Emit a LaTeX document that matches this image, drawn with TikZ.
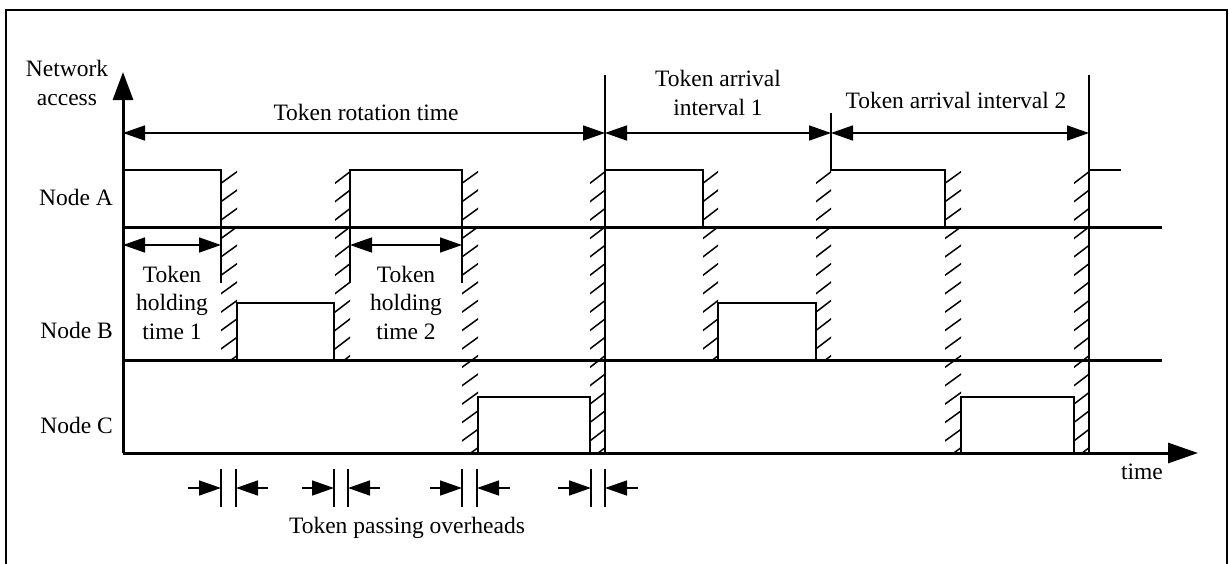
\documentclass[tikz,border=0pt]{standalone}
\usepackage{fontspec}
\setmainfont{Liberation Serif}
\usetikzlibrary{arrows.meta}

% hatched token-passing band: #1 left x, #2 right x, #3 top y, #4 bottom y
\newcommand\hatchband[4]{%
  \begin{scope}
    \clip (#1,#3) rectangle (#2,#4);
    \foreach \k in {0,...,16} {
      \draw[hatch] (#1-1,{#3+14+\k*18.4}) -- (#2+1,{#3+1+\k*18.4});
    }
  \end{scope}}

\begin{document}
\begin{tikzpicture}[x=1pt,y=-1pt,
  lbl/.style={inner sep=0pt, font=\fontsize{23.5}{28.5}\selectfont, align=center},
  frame/.style={line width=1.8pt},
  axis/.style={line width=3pt},
  rowline/.style={line width=3pt},
  pulse/.style={line width=1.8pt},
  tickline/.style={line width=1.8pt},
  hatch/.style={line width=1.5pt},
  tip/.tip={Triangle[length=22pt,width=15pt]},
  dimarrow/.style={line width=1.6pt, tip-tip},
  ovarrow/.style={line width=1.6pt, -tip}
]
\useasboundingbox (0,0) rectangle (1229,563);

% outer frame
\draw[frame] (6,565) -- (6,10) -- (1227,10) -- (1227,565);

% axes
\coordinate (orig) at (123,453);
\coordinate (ytop) at (123,72);
\coordinate (xend) at (1198,453);
\draw[axis, -{Triangle[length=28pt,width=20pt]}] (orig) -- (ytop);
\draw[axis, -{Triangle[length=30pt,width=20pt]}] (orig) -- (xend);

% row separators
\coordinate (rowA0) at (123,227); \coordinate (rowA1) at (1162,227);
\coordinate (rowB0) at (123,360); \coordinate (rowB1) at (1162,360);
\draw[rowline] (rowA0) -- (rowA1);
\draw[rowline] (rowB0) -- (rowB1);

% hatched token passing bands
\hatchband{221}{237}{170}{360}
\hatchband{335}{350}{170}{360}
\hatchband{462}{478}{170}{453}
\hatchband{590}{605}{170}{453}
\hatchband{703}{718}{170}{360}
\hatchband{816}{831}{170}{360}
\hatchband{945}{961}{170}{453}
\hatchband{1074}{1089}{170}{453}

% node A transmissions
\draw[pulse] (123,170) -- (221,170) -- (221,283);
\draw[pulse] (350,283) -- (350,170) -- (462,170) -- (462,283);
\draw[pulse] (605,170) -- (703,170) -- (703,227);
\draw[pulse] (831,113) -- (831,170) -- (945,170) -- (945,227);
\draw[pulse] (1089,170) -- (1121,170);
% node B transmissions
\draw[pulse] (237,360) -- (237,303) -- (334,303) -- (334,360);
\draw[pulse] (718,360) -- (718,303) -- (816,303) -- (816,360);
% node C transmissions
\draw[pulse] (478,453) -- (478,397) -- (590,397) -- (590,453);
\draw[pulse] (961,453) -- (961,397) -- (1074,397) -- (1074,453);

% interval boundaries
\coordinate (b1top) at (605,75);  \coordinate (b1bot) at (605,453);
\coordinate (b2top) at (1089,75); \coordinate (b2bot) at (1089,453);
\draw[pulse] (b1top) -- (b1bot);
\draw[pulse] (b2top) -- (b2bot);

% dimension arrows
\coordinate (r0) at (123,133); \coordinate (r1) at (605,133);
\coordinate (r2) at (831,133); \coordinate (r3) at (1089,133);
\draw[dimarrow] (r0) -- (r1);
\draw[dimarrow] (r1) -- (r2);
\draw[dimarrow] (r2) -- (r3);
\coordinate (h10) at (123,245); \coordinate (h11) at (221,245);
\coordinate (h20) at (350,245); \coordinate (h21) at (462,245);
\draw[dimarrow] (h10) -- (h11);
\draw[dimarrow] (h20) -- (h21);

% token passing overhead markers
\foreach \a/\b/\la/\rb [count=\i] in {221/236/188/268, 334/348/302/380, 462/477/430/510, 591/605/558/638} {
  \coordinate (ovL\i) at (\a,488);
  \coordinate (ovR\i) at (\b,488);
  \coordinate (ovLs\i) at (\la,488);
  \coordinate (ovRs\i) at (\rb,488);
  \draw[tickline] (\a,469) -- (\a,507);
  \draw[tickline] (\b,469) -- (\b,507);
  \draw[ovarrow] (ovLs\i) -- (ovL\i);
  \draw[ovarrow] (ovRs\i) -- (ovR\i);
}

% labels
\node[lbl] (net) at (67,83) {Network\\access};
\node[lbl, anchor=base east] (na) at (113,205) {Node A};
\node[lbl, anchor=base east] (nb) at (113,338) {Node B};
\node[lbl, anchor=base east] (nc) at (113,433) {Node C};
\node[lbl, anchor=base] (rot) at (366,120) {Token rotation time};
\node[lbl] (arr1) at (718,93) {Token arrival\\interval 1};
\node[lbl, anchor=base] (arr2) at (956,108) {Token arrival interval 2};
\node[lbl] (hold1) at (172,302.5) {Token\\holding\\time 1};
\node[lbl] (hold2) at (406,302.5) {Token\\holding\\time 2};
\node[lbl, anchor=base] (tm) at (1142,479) {time};
\node[lbl, anchor=base] (ov) at (407,533) {Token passing overheads};
\end{tikzpicture}
\end{document}
